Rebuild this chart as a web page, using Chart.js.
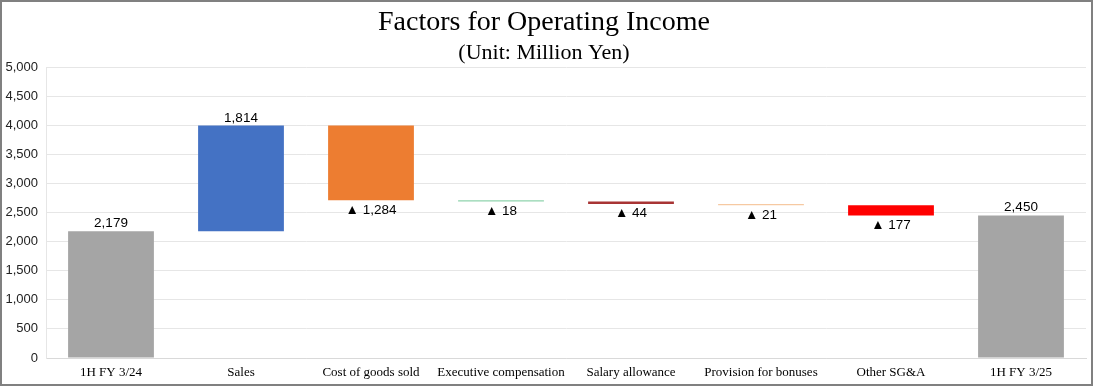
<!DOCTYPE html>
<html>
<head>
<meta charset="utf-8">
<script src="https://cdn.jsdelivr.net/npm/chart.js@4"></script>
<style>
  body { margin: 0; background: #fff; }
  .wrap { width: 1093px; height: 386px; box-sizing: border-box; border: 2px solid #808080; }
  canvas { display: block; }
</style>
</head>
<body>
<div class="wrap"><canvas id="factor-chart" width="1089" height="382"></canvas></div>
<script>
const categories = ['1H FY 3/24', 'Sales', 'Cost of goods sold', 'Executive compensation', 'Salary allowance', 'Provision for bonuses', 'Other SG&A', '1H FY 3/25']
const startValue = 2179
const factorValues = [1814, -1284, -18, -44, -21, -177]
const endValue = 2450
const barColors = ['#a5a5a5', '#4472c4', '#ed7d31', '#8fd3ad', '#a83434', '#f6c9a2', '#ff0000', '#a5a5a5']

// build floating ranges for the waterfall
const ranges = [[0, startValue]]
const labels = [startValue]
let running = startValue
factorValues.forEach((v) => {
  ranges.push([running, running + v])
  labels.push(v)
  running += v
})
ranges.push([0, endValue])
labels.push(endValue)

const fmt = (v) => {
  const s = Math.abs(v).toLocaleString('en-US')
  return v < 0 ? '▲ ' + s : s
}

const valueLabels = {
  id: 'valueLabels',
  afterDatasetsDraw(chart) {
    const ctx = chart.ctx
    const meta = chart.getDatasetMeta(0)
    ctx.save()
    ctx.font = "13.5px 'Liberation Sans', 'DejaVu Sans', sans-serif"
    ctx.fillStyle = '#000'
    ctx.textAlign = 'center'
    meta.data.forEach((bar, i) => {
      const v = labels[i]
      if (v >= 0) {
        ctx.textBaseline = 'bottom'
        ctx.fillText(fmt(v), bar.x, Math.min(bar.y, bar.base) - 1)
      } else {
        ctx.textBaseline = 'top'
        ctx.fillText(fmt(v), bar.x, Math.max(bar.y, bar.base) + 3)
      }
    })
    ctx.restore()
  }
}

const factorChart = new Chart(document.getElementById('factor-chart'), {
  type: 'bar',
  data: {
    labels: categories,
    datasets: [{
      data: ranges,
      backgroundColor: barColors,
      borderWidth: 0,
      categoryPercentage: 1,
      barPercentage: 0.66
    }]
  },
  options: {
    responsive: false,
    animation: false,
    layout: { padding: { left: 0, right: 5, bottom: 0 } },
    plugins: {
      legend: { display: false },
      tooltip: { enabled: false },
      title: {
        display: true,
        text: 'Factors for Operating Income',
        color: '#000',
        font: { family: "'Liberation Serif', serif", size: 28, weight: 'normal' },
        padding: { top: 4, bottom: 0 }
      },
      subtitle: {
        display: true,
        text: '(Unit: Million Yen)',
        color: '#000',
        font: { family: "'Liberation Serif', serif", size: 22, weight: 'normal' },
        padding: { top: 0, bottom: 1 }
      }
    },
    scales: {
      x: {
        afterFit: (scale) => { scale.height = 26 },
        grid: { display: false, drawTicks: false },
        border: { color: '#d9d9d9' },
        ticks: {
          color: '#000',
          padding: 7,
          maxRotation: 0,
          autoSkip: false,
          font: { family: "'Liberation Serif', serif", size: 13 }
        }
      },
      y: {
        min: 0,
        max: 5000,
        afterFit: (scale) => { scale.width = 44 },
        grid: { color: '#e6e6e6', drawTicks: false },
        border: { color: '#e6e6e6' },
        ticks: {
          stepSize: 500,
          color: '#222',
          padding: 8,
          font: { family: "'Liberation Sans', sans-serif", size: 13 },
          callback: (v) => v.toLocaleString('en-US')
        }
      }
    }
  },
  plugins: [valueLabels]
})
</script>
</body>
</html>
